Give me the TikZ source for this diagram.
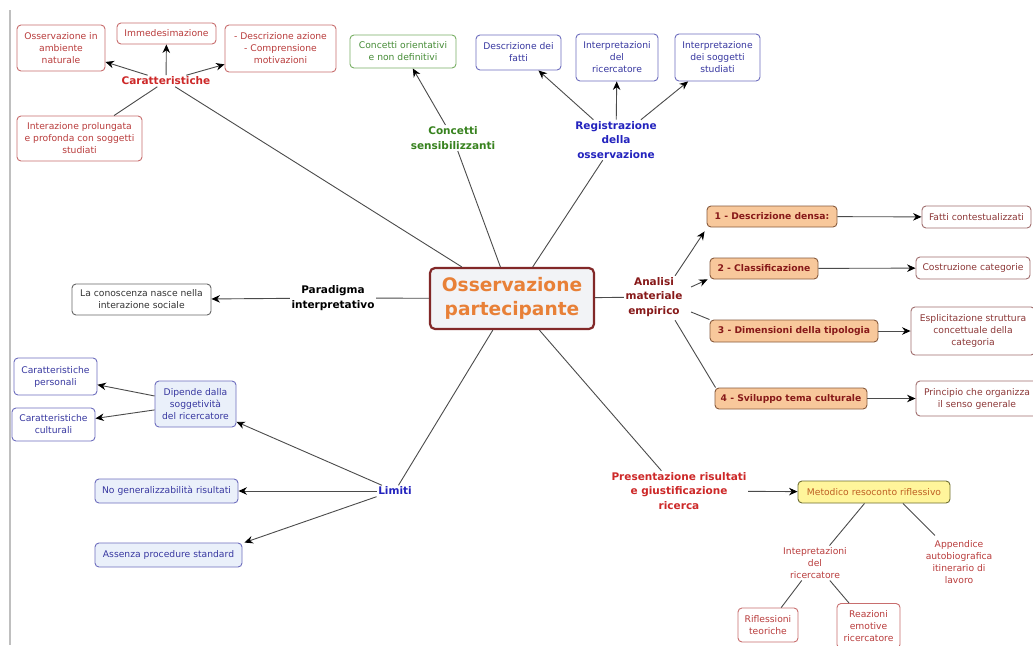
\documentclass[tikz,border=0pt]{standalone}
\usepackage{fontspec}
\setmainfont{DejaVu Sans}
\usetikzlibrary{arrows.meta,calc}
\definecolor{redB}{RGB}{200,110,110}
\definecolor{redT}{RGB}{185,60,60}
\definecolor{redL}{RGB}{205,40,40}
\definecolor{greenB}{RGB}{120,175,100}
\definecolor{greenT}{RGB}{70,140,55}
\definecolor{greenL}{RGB}{55,130,30}
\definecolor{blueB}{RGB}{110,110,190}
\definecolor{blueT}{RGB}{55,55,160}
\definecolor{blueL}{RGB}{35,35,190}
\definecolor{blueF}{RGB}{234,240,250}
\definecolor{centB}{RGB}{130,40,40}
\definecolor{centF}{RGB}{242,243,246}
\definecolor{centT}{RGB}{232,128,55}
\definecolor{anaT}{RGB}{135,25,25}
\definecolor{orF}{RGB}{248,200,155}
\definecolor{orB}{RGB}{135,90,60}
\definecolor{brB}{RGB}{160,110,110}
\definecolor{brT}{RGB}{140,55,55}
\definecolor{yelF}{RGB}{255,245,155}
\definecolor{yelB}{RGB}{110,110,50}
\definecolor{yelT}{RGB}{190,95,35}
\definecolor{lineC}{RGB}{75,75,75}
\begin{document}
\begin{tikzpicture}[x=1pt,y=-1pt,
  wh/.style 2 args={minimum width=#1pt,minimum height=#2pt},
  base/.style={rounded corners=4pt,line width=0.9pt,align=center,inner sep=2pt,font=\fontsize{9.2}{12}\selectfont},
  cbox/.style={base,draw=redB,text=redT,fill=white},
  gbox/.style={base,draw=greenB,text=greenT,fill=white},
  bbox/.style={base,draw=blueB,text=blueT,fill=white},
  lbox/.style={base,draw=blueB,text=blueT,fill=blueF},
  kbox/.style={base,draw=gray!80!black,text=black!80,fill=white},
  obox/.style={base,draw=orB,text=anaT,fill=orF,font=\bfseries\fontsize{9.2}{11}\selectfont},
  nbox/.style={base,draw=brB,text=brT,fill=white},
  ybox/.style={base,draw=yelB,text=yelT,fill=yelF},
  lbl/.style={align=center,inner sep=1.5pt,font=\bfseries\fontsize{10.5}{14.5}\selectfont},
  plain/.style={align=center,inner sep=1.5pt,font=\fontsize{9.2}{12.2}\selectfont,text=redT},
  arr/.style={draw=lineC,line width=0.9pt,-{Stealth[length=8.5pt,width=7.5pt,color=black]}},
  ln/.style={draw=lineC,line width=0.9pt},
]
\useasboundingbox (0,0) rectangle (1033,645);
\fill[white] (0,0) rectangle (1033,645);
\coordinate (gtop) at (10,10);
\coordinate (gbot) at (10,645);
\draw[gray!50,line width=1.5pt] (gtop) -- (gbot);

% centre
\node[rounded corners=5pt,draw=centB,line width=2.2pt,fill=centF,text=centT,align=center,
  font=\bfseries\fontsize{18.6}{24.5}\selectfont,wh={164}{61}] (cen) at (512,298.5) {Osservazione\\partecipante};

% Caratteristiche
\node[lbl,text=redL] (car) at (166,81) {Caratteristiche};
\node[cbox,wh={88}{46}] (c1) at (61,48) {Osservazione in\\ambiente\\naturale};
\node[cbox,wh={99}{21}] (c2) at (166.5,33.5) {Immedesimazione};
\node[cbox,wh={111}{47}] (c3) at (280.5,48.5) {- Descrizione azione\\- Comprensione\\motivazioni};
\node[cbox,wh={125}{45}] (c4) at (79.5,138.5) {Interazione prolungata\\e profonda con soggetti\\studiati};
\draw[arr] (car) -- (c1);
\draw[arr] (car) -- (c2);
\draw[arr] (car) -- (c3);
\draw[ln] (car) -- (c4);
\draw[ln] (car) -- (cen);

% Concetti sensibilizzanti
\node[lbl,text=greenL] (cs) at (453,138) {Concetti\\sensibilizzanti};
\node[gbox,wh={106}{33}] (g1) at (403,51.5) {Concetti orientativi\\e non definitivi};
\draw[arr] (cs) -- (g1);
\draw[ln] (cs) -- (cen);

% Registrazione
\node[lbl,text=blueL] (reg) at (616,140) {Registrazione\\della\\osservazione};
\node[bbox,wh={85}{35}] (r1) at (518.5,52.5) {Descrizione dei\\fatti};
\node[bbox,wh={82}{47}] (r2) at (617,57.5) {Interpretazioni\\del\\ricercatore};
\node[bbox,wh={85}{47}] (r3) at (717.5,57.5) {Interpretazione\\dei soggetti\\studiati};
\draw[arr] (reg) -- (r1);
\draw[arr] (reg) -- (r2);
\draw[arr] (reg) -- (r3);
\draw[ln] (reg) -- (cen);

% Paradigma
\node[lbl,text=black] (par) at (333,298) {Paradigma\\interpretativo};
\node[kbox,wh={139}{31}] (k1) at (141.5,299.5) {La conoscenza nasce nella\\interazione sociale};
\draw[ln] (cen) -- (par);
\draw[arr] (par) -- (k1);

% Analisi
\node[lbl,text=anaT] (ana) at (654,297) {Analisi\\materiale\\empirico};
\draw[ln] (cen) -- (ana);
\node[obox,wh={130}{21}] (d1) at (772,216.5) {1 - Descrizione densa:};
\node[obox,wh={108}{21}] (d2) at (764,268.5) {2 - Classificazione};
\node[obox,wh={168}{22}] (d3) at (794,331) {3 - Dimensioni della tipologia};
\node[obox,wh={152}{21}] (d4) at (791,398.5) {4 - Sviluppo tema culturale};
\node[nbox,wh={109}{22}] (f1) at (976.5,217) {Fatti contestualizzati};
\node[nbox,wh={114}{22}] (f2) at (973,268) {Costruzione categorie};
\node[nbox,wh={124}{48}] (f3) at (973,331) {Esplicitazione struttura\\concettuale della\\categoria};
\node[nbox,wh={122}{35}] (f4) at (977,398.5) {Principio che organizza\\il senso generale};
\draw[arr] ([xshift=-9pt]ana.north east) -- ([xshift=-2pt,yshift=-4pt]d1.south west);
\draw[arr] ([xshift=7pt,yshift=10pt]ana.east) -- ([xshift=-2pt]d2.south west);
\draw[ln] ([xshift=7pt,yshift=-15pt]ana.east) -- (d3.north west);
\draw[ln] ([xshift=-9pt,yshift=-2pt]ana.south east) -- ([xshift=1pt]d4.north west);
\draw[arr] (d1) -- (f1);
\draw[arr] (d2) -- (f2);
\draw[arr] (d3) -- (f3);
\draw[arr] (d4) -- (f4);

% Presentazione
\node[lbl,text=redL] (pre) at (679,491) {Presentazione risultati\\e giustificazione\\ricerca};
\draw[ln] (pre) -- (cen);
\node[ybox,wh={152}{22}] (met) at (874,492) {Metodico resoconto riflessivo};
\draw[arr] (pre) -- (met);
\node[plain] (int) at (815,563) {Intepretazioni\\del\\ricercatore};
\node[plain] (app) at (959,562) {Appendice\\autobiografica\\itinerario di\\lavoro};
\draw[ln] (met) -- (int);
\draw[ln] ([xshift=29pt]met.south) -- ([xshift=-24pt,yshift=3pt]app.north);
\node[cbox,wh={60}{34}] (rt) at (768,625) {Riflessioni\\teoriche};
\node[cbox,wh={63}{45}] (re) at (868.5,626) {Reazioni\\emotive\\ricercatore};
\draw[ln] (int) -- (rt);
\draw[ln] (int) -- (re);

% Limiti
\node[lbl,text=blueL] (lim) at (395,491) {Limiti};
\draw[ln] (lim) -- (cen);
\node[lbox,wh={81}{46}] (lk) at (195.5,404) {Dipende dalla\\soggetività\\del ricercatore};
\node[bbox,wh={83}{37}] (cp) at (55.5,376.5) {Caratteristiche\\personali};
\node[bbox,wh={83}{33}] (cc) at (53.5,424.5) {Caratteristiche\\culturali};
\node[lbox,wh={143}{24}] (ng) at (166.5,491) {No generalizzabilità risultati};
\node[lbox,wh={147}{24}] (ap) at (168.5,555) {Assenza procedure standard};
\draw[arr] (lim) -- (lk);
\draw[arr] (lim) -- (ng);
\draw[arr] (lim.south west) -- ([xshift=2pt]ap.north east);
\draw[arr] (lk) -- (cp);
\draw[arr] (lk) -- (cc);
\end{tikzpicture}
\end{document}
